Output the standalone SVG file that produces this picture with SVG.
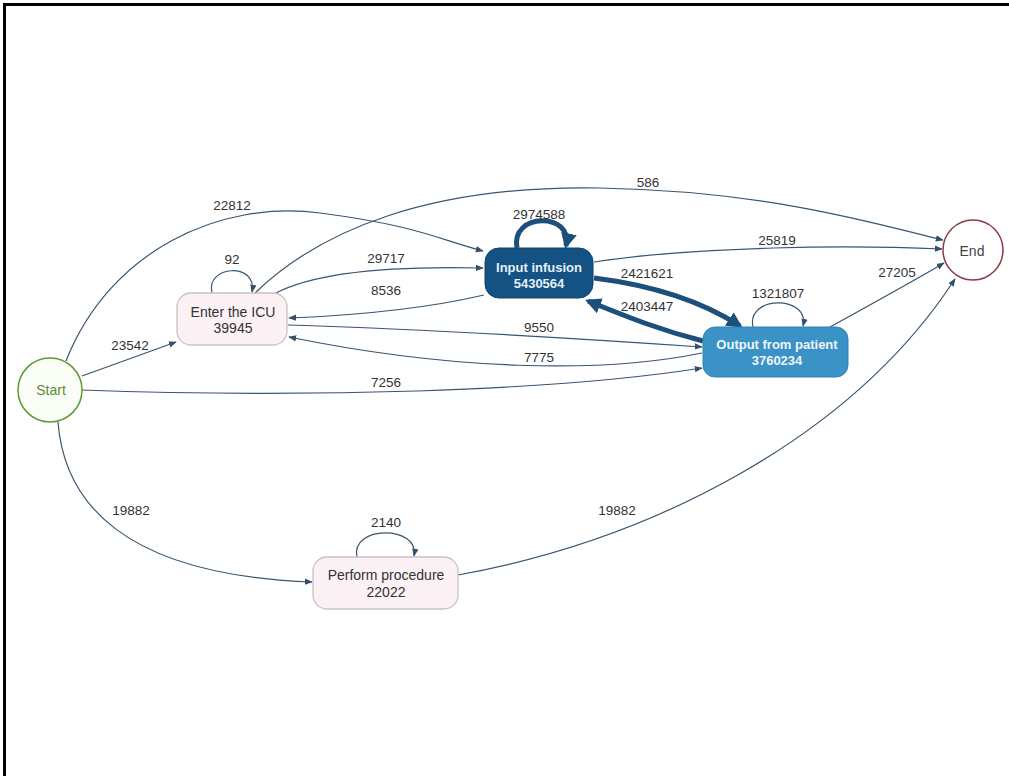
<svg xmlns="http://www.w3.org/2000/svg" width="1009" height="776" viewBox="0 0 1009 776">
<defs>
<marker id="ah" viewBox="0 0 10 10" refX="9" refY="5" markerWidth="8" markerHeight="8" markerUnits="userSpaceOnUse" orient="auto">
<path d="M0,1 L10,5 L0,9 z" fill="#34506b"/>
</marker>
<marker id="ahb" viewBox="0 0 10 10" refX="8" refY="5" markerWidth="16" markerHeight="16" markerUnits="userSpaceOnUse" orient="auto">
<path d="M0,0 L10,5 L0,10 z" fill="#1d4f7c"/>
</marker>
<style>
.e{fill:none;stroke:#3a5570;stroke-width:1.2;marker-end:url(#ah)}
.eb{fill:none;stroke:#1d4f7c;stroke-width:5;marker-end:url(#ahb)}
.lb{font-family:"Liberation Sans",Arial,sans-serif;font-size:13.5px;fill:#333;text-anchor:middle}
.nt{font-family:"Liberation Sans",Arial,sans-serif;font-size:14px;text-anchor:middle}
.nb{font-family:"Liberation Sans",Arial,sans-serif;font-size:13px;font-weight:bold;text-anchor:middle}
.pink{fill:#fcf1f4;stroke:#c9c2c4;stroke-width:1.3}
</style>
</defs>
<rect width="1009" height="776" fill="#fff"/>
<path d="M4.5,776 V4.5 H1009" fill="none" stroke="#000" stroke-width="3"/>

<g id="connectors">
<path class="e" d="M82,376 L176,342"/>
<path class="e" d="M66,361 C110,250 220,200 320,213 S440,240 483,251"/>
<path class="e" d="M255,293 C320,230 430,185 600,188 S880,225 943,240"/>
<path class="e" d="M212,293 C205,265 258,262 252,292"/>
<path class="e" d="M276,293 C320,270 400,266 483,268"/>
<path class="e" d="M484,295 C420,310 340,316 289,318"/>
<path class="e" d="M288,325 C450,330 600,340 702,347"/>
<path class="e" d="M702,353 C600,374 450,370 289,337"/>
<path class="e" d="M82,390 C300,398 550,392 702,368"/>
<path class="e" d="M594,262 C700,246 850,245 942,249"/>
<path class="e" d="M830,327 C870,305 910,283 944,263"/>
<path class="e" d="M58,422 C64,500 120,575 312,582"/>
<path class="e" d="M357,557 C350,525 420,525 414,556"/>
<path class="e" d="M458,575 C650,540 850,440 955,279"/>
<path class="e" d="M753,327 C746,295 810,295 803,326"/>
<path class="eb" d="M517,248 C510,212 574,212 566,246"/>
<path class="eb" d="M594,278 C650,285 700,300 740,326"/>
<path class="eb" d="M703,341 C660,330 630,318 588,301"/>
</g>

<g id="edge-labels">
<text class="lb" x="130" y="350">23542</text>
<text class="lb" x="232" y="210">22812</text>
<text class="lb" x="648" y="187">586</text>
<text class="lb" x="232" y="264">92</text>
<text class="lb" x="386" y="263">29717</text>
<text class="lb" x="386" y="295">8536</text>
<text class="lb" x="539" y="332">9550</text>
<text class="lb" x="539" y="362">7775</text>
<text class="lb" x="386" y="387">7256</text>
<text class="lb" x="539" y="219">2974588</text>
<text class="lb" x="777" y="245">25819</text>
<text class="lb" x="647" y="278">2421621</text>
<text class="lb" x="647" y="311">2403447</text>
<text class="lb" x="778" y="298">1321807</text>
<text class="lb" x="897" y="277">27205</text>
<text class="lb" x="131" y="515">19882</text>
<text class="lb" x="386" y="527">2140</text>
<text class="lb" x="617" y="515">19882</text>
</g>

<g id="node-start">
<circle cx="50" cy="390" r="32" fill="#fbfef6" stroke="#5e9a34" stroke-width="1.5"/>
<text class="nt" x="51" y="395" fill="#5b8a35">Start</text>
</g>
<g id="node-end">
<circle cx="973" cy="250" r="30" fill="#fff" stroke="#8c3b44" stroke-width="1.5"/>
<text class="nt" x="972" y="256" fill="#444">End</text>
</g>
<g id="node-icu">
<rect class="pink" x="177" y="293" width="110" height="52" rx="14"/>
<text class="nt" x="233" y="317" fill="#333">Enter the ICU</text>
<text class="nt" x="233" y="333" fill="#333">39945</text>
</g>
<g id="node-input">
<rect x="485" y="248" width="108" height="50" rx="14" fill="#135282" stroke="#0d4270" stroke-width="1"/>
<text class="nb" x="539" y="272" fill="#e6f0f8">Input infusion</text>
<text class="nb" x="539" y="288" fill="#e6f0f8">5430564</text>
</g>
<g id="node-output">
<rect x="703" y="327" width="145" height="50" rx="12" fill="#3a92c6" stroke="#2f83b5" stroke-width="1"/>
<text class="nb" x="777" y="349" fill="#eef6fb">Output from patient</text>
<text class="nb" x="777" y="365" fill="#eef6fb">3760234</text>
</g>
<g id="node-procedure">
<rect class="pink" x="313" y="557" width="145" height="52" rx="14"/>
<text class="nt" x="386" y="580" fill="#333">Perform procedure</text>
<text class="nt" x="386" y="597" fill="#333">22022</text>
</g>
</svg>
